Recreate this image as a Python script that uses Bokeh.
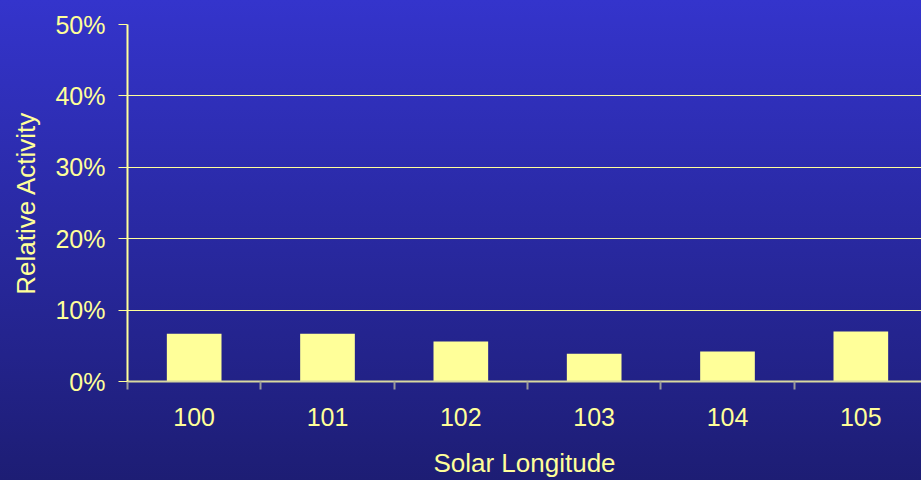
from bokeh.plotting import figure
from bokeh.models import FixedTicker, NumeralTickFormatter, Range1d, GlobalInlineStyleSheet
from bokeh.embed import file_html
from bokeh.resources import INLINE

longitudes = [100, 101, 102, 103, 104, 105]
activity = [0.067, 0.067, 0.056, 0.039, 0.042, 0.070]
y_ticks = [0.0, 0.1, 0.2, 0.3, 0.4, 0.5]

FG = "#ffff99"
FONT = "Liberation Sans"

p = figure(width=921, height=480, output_backend="svg", toolbar_location=None,
           x_range=Range1d(99.5, 105.455), y_range=Range1d(0, 0.5),
           min_border_left=127, min_border_right=0, min_border_top=24, min_border_bottom=98)
p.background_fill_color = None
p.border_fill_color = None
p.outline_line_color = None
p.stylesheets = [GlobalInlineStyleSheet(css="html{height:100%;overflow:hidden;background:linear-gradient(to bottom,#3434cc 0%,#1d1d74 100%) no-repeat;} body{margin:0;overflow:hidden;background:transparent;}")]

p.vbar(x=longitudes, top=activity, width=0.41, bottom=0, fill_color=FG, line_color=None)

boundaries = [v - 0.5 for v in longitudes] + [longitudes[-1] + 0.5]
p.xaxis.ticker = FixedTicker(ticks=longitudes, minor_ticks=boundaries)
p.xaxis.major_tick_line_color = None
p.xaxis.major_tick_out = 0
p.xaxis.major_tick_in = 0
p.xaxis.minor_tick_line_color = "#9a9a9a"
p.xaxis.minor_tick_line_width = 2
p.xaxis.minor_tick_out = 8
p.xaxis.minor_tick_in = 0
p.xaxis.axis_line_color = "#d8d8a0"
p.xaxis.axis_line_width = 2
p.xaxis.major_label_standoff = 18
p.xaxis.axis_label = "Solar Longitude"
p.xaxis.axis_label_standoff = 19

p.yaxis.ticker = FixedTicker(ticks=y_ticks)
p.yaxis.formatter = NumeralTickFormatter(format="0%")
p.yaxis.major_tick_line_color = FG
p.yaxis.major_tick_out = 9
p.yaxis.major_tick_in = 0
p.yaxis.minor_tick_line_color = None
p.yaxis.axis_line_color = FG
p.yaxis.axis_line_width = 2
p.yaxis.major_label_standoff = 13
p.yaxis.axis_label = "Relative Activity"
p.yaxis.axis_label_standoff = 11

for ax in (p.xaxis, p.yaxis):
    ax.major_label_text_color = FG
    ax.major_label_text_font = FONT
    ax.major_label_text_font_size = "25px"
    ax.axis_label_text_color = FG
    ax.axis_label_text_font = FONT
    ax.axis_label_text_font_size = "26px"
    ax.axis_label_text_font_style = "normal"

p.xgrid.grid_line_color = None
p.ygrid.ticker = FixedTicker(ticks=y_ticks)
p.ygrid.grid_line_color = FG
p.ygrid.grid_line_width = 1

open("out.html", "w").write(file_html(p, INLINE))
